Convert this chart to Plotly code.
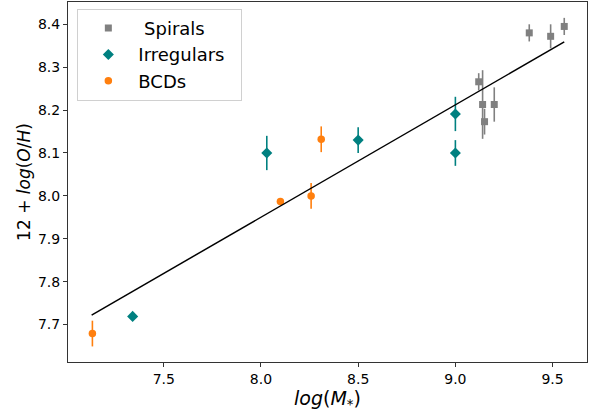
import plotly.graph_objects as go

# Spiral galaxies
spiral_mass = [9.12, 9.14, 9.15, 9.20, 9.38, 9.49, 9.56]
spiral_oh = [8.266, 8.213, 8.173, 8.213, 8.380, 8.372, 8.395]
spiral_err = [0.02, 0.08, 0.03, 0.04, 0.02, 0.028, 0.02]

# Irregular galaxies
irr_mass = [7.34, 8.03, 8.50, 9.00, 9.00]
irr_oh = [7.719, 8.100, 8.130, 8.191, 8.100]
irr_err = [0.003, 0.04, 0.03, 0.04, 0.03]

# Blue compact dwarfs
bcd_mass = [7.133, 8.10, 8.258, 8.31]
bcd_oh = [7.679, 7.987, 8.000, 8.132]
bcd_err = [0.03, 0.006, 0.03, 0.03]

# Linear mass-metallicity relation (endpoints)
fit_mass = [7.129, 9.560]
fit_oh = [7.722, 8.359]

xticks = [7.5, 8.0, 8.5, 9.0, 9.5]
yticks = [7.7, 7.8, 7.9, 8.0, 8.1, 8.2, 8.3, 8.4]

GRAY = "#808080"
TEAL = "#008080"
ORANGE = "#ff7f0e"
FONT = "DejaVu Sans"

fig = go.Figure()


def err(vals, color):
    return dict(type="data", array=vals, visible=True, color=color,
                thickness=1.6, width=0)


fig.add_trace(go.Scatter(
    x=spiral_mass, y=spiral_oh, mode="markers", name="\u00a0Spirals",
    legendgroup="s",
    marker=dict(symbol="square", size=7, color=GRAY),
    error_y=err(spiral_err, GRAY)))
fig.add_trace(go.Scatter(
    x=irr_mass, y=irr_oh, mode="markers", name="Irregulars\u00a0\u00a0",
    legendgroup="i",
    marker=dict(symbol="diamond", size=8.5, color=TEAL),
    error_y=err(irr_err, TEAL)))
fig.add_trace(go.Scatter(
    x=bcd_mass, y=bcd_oh, mode="markers", name="BCDs",
    legendgroup="b",
    marker=dict(symbol="circle", size=7.5, color=ORANGE),
    error_y=err(bcd_err, ORANGE)))
fig.add_trace(go.Scatter(
    x=fit_mass, y=fit_oh, mode="lines", showlegend=False,
    line=dict(color="black", width=1.5)))

axis_common = dict(
    showgrid=False, zeroline=False, showline=True, linecolor="#333333",
    linewidth=1, mirror=True, ticks="outside", ticklen=4, tickwidth=1,
    tickcolor="#333333", tickfont=dict(family=FONT, size=14, color="black"),
)

fig.update_xaxes(
    range=[7.0075, 9.677], tickvals=xticks,
    ticktext=[f"{v:.1f}" for v in xticks],
    title=dict(text="<i>log</i>(<i>M</i><sub>*</sub>)",
               font=dict(family=FONT, size=19, color="black"), standoff=4),
    **axis_common)
fig.update_yaxes(
    range=[7.6127, 8.452], tickvals=yticks,
    ticktext=[f"{v:.1f}" for v in yticks],
    title=dict(text="12 + <i>log</i>(<i>O</i>/<i>H</i>)",
               font=dict(family=FONT, size=17, color="black"), standoff=2),
    **axis_common)

fig.update_layout(
    width=595, height=415,
    margin=dict(l=68, r=8, t=2, b=53),
    plot_bgcolor="white", paper_bgcolor="white",
    font=dict(family=FONT, color="black"),
    legend=dict(
        x=0.018, y=0.981, xanchor="left", yanchor="top",
        bgcolor="white", bordercolor="#d0d0d0", borderwidth=1,
        font=dict(family=FONT, size=18, color="black"),
        itemwidth=50, tracegroupgap=0),
)

fig.write_html("out.html")
